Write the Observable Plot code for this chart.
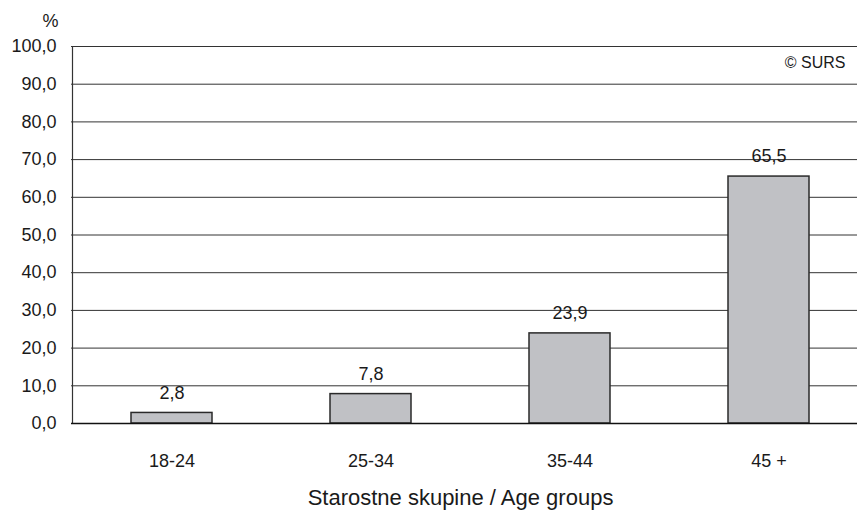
<!DOCTYPE html>
<html>
<head>
<meta charset="utf-8">
<script src="https://cdn.jsdelivr.net/npm/d3@7"></script>
<script src="https://cdn.jsdelivr.net/npm/@observablehq/plot@0.6"></script>
<style>
  html, body { margin: 0; padding: 0; background: #fff; }
  #chart svg { display: block; }
</style>
</head>
<body>
<div id="chart"></div>
<script>
const categories = ["18-24", "25-34", "35-44", "45 +"];
const values = [2.8, 7.8, 23.9, 65.5];
const yTicks = [0, 10, 20, 30, 40, 50, 60, 70, 80, 90, 100];
const unitLabel = "%";
const xTitle = "Starostne skupine / Age groups";
const sourceNote = "© SURS";

const data = categories.map((c, i) => ({ group: c, value: values[i] }));
const fmt = d => d.toFixed(1).replace(".", ",");

const chart = Plot.plot({
  width: 858,
  height: 510,
  marginLeft: 71,
  marginRight: 1,
  marginTop: 46,
  marginBottom: 87,
  style: { fontFamily: "Liberation Sans, Arial, sans-serif", background: "#fff", overflow: "visible" },
  x: { type: "band", domain: categories, range: [71, 868], paddingInner: 0.594, paddingOuter: 0.296 },
  y: { domain: [0, 100] },
  marks: [
    Plot.ruleY(yTicks.filter(d => d > 0), { stroke: "#333", strokeWidth: 1 }),
    Plot.ruleX([categories[0]], { x: d => d, dx: -99.5, stroke: "#333", strokeWidth: 1.2 }),
    Plot.barY(data, { x: "group", y: "value", fill: "#c0c1c5", stroke: "#2a2a2a", strokeWidth: 1.5 }),
    Plot.ruleY([0], { stroke: "#111", strokeWidth: 1.5 }),
    Plot.text(data, { x: "group", y: "value", text: d => fmt(d.value), dy: -20, lineAnchor: "middle", fontSize: 18, fill: "#1a1a1a" }),
    Plot.axisY({ ticks: yTicks, tickSize: 0, tickPadding: 15, tickFormat: fmt, fontSize: 18, fill: "#1a1a1a", label: null }),
    Plot.axisX({ tickSize: 0, tickPadding: 31, fontSize: 18, fill: "#1a1a1a", label: null }),
    Plot.text([unitLabel], { frameAnchor: "top-left", dx: -29, dy: -25, lineAnchor: "middle", fontSize: 18, fill: "#1a1a1a" }),
    Plot.text([sourceNote], { frameAnchor: "top-right", textAnchor: "end", dx: -12, dy: 16, lineAnchor: "middle", fontSize: 16, fill: "#1a1a1a" }),
    Plot.text([xTitle], { frameAnchor: "bottom", dx: -4, dy: 74, lineAnchor: "middle", fontSize: 22, fill: "#1a1a1a" })
  ]
});
document.getElementById("chart").appendChild(chart);
</script>
</body>
</html>
